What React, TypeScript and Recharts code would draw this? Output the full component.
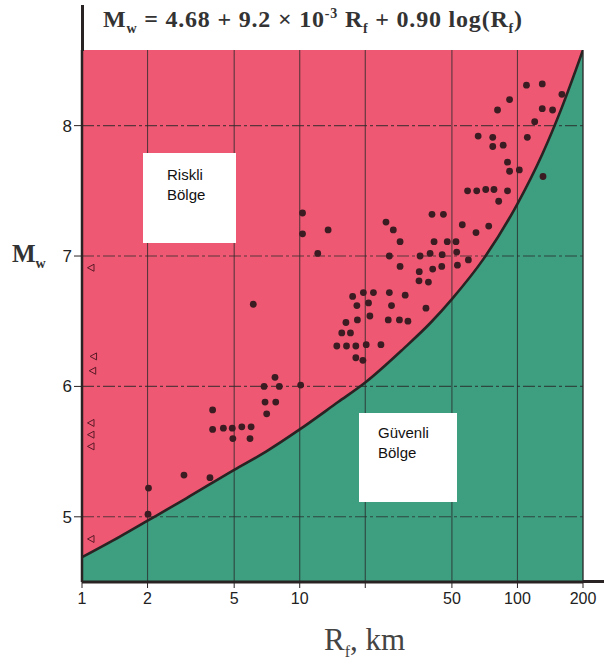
import React from "react";
import {
  Area,
  ComposedChart,
  Line,
  ReferenceArea,
  ReferenceLine,
  Scatter,
  XAxis,
  YAxis,
} from "recharts";

// axis ticks
const rfTicks = [1, 2, 5, 10, 20, 50, 100, 200];
const rfGrid = [2, 5, 10, 20, 50, 100, 200];
const mwTicks = [5, 6, 7, 8];

// boundary curve
const curveRf = [1, 1.5, 2, 3, 5, 7, 10, 15, 20, 30, 40, 50, 70, 100, 130, 160, 200];
const curveMw = [
  4.69, 4.85, 4.97, 5.14, 5.36, 5.5, 5.67, 5.88, 6.03, 6.29, 6.49, 6.67, 6.98,
  7.4, 7.78, 8.14, 8.58,
];

// observed cases (filled dots)
const dotRf = [
  110, 130, 160, 92, 81, 130, 145, 120, 66, 77, 77, 86, 111, 90, 92, 102, 131,
  59, 65, 71.5, 78, 90, 82, 40.5, 45.7, 10.3, 10.3, 13.5, 24.9, 26.9, 28.9,
  55.8, 64.5, 73.8, 41.4, 47.6, 52.2, 25.8, 35.7, 39.7, 45.1, 52.6, 12.1, 28.9,
  35.4, 40.8, 44.9, 53, 59.5, 35.3, 39, 6.12, 17.5, 19.6, 21.8, 25.8, 30.5,
  18.3, 20.7, 26.4, 38, 16.3, 18.4, 21, 25.5, 28.7, 31.4, 15.6, 17.1, 14.8,
  16.4, 18.1, 20.2, 23.6, 18.1, 19.5, 7.7, 6.86, 8.06, 10.1, 6.93, 7.76, 7.05,
  3.98, 3.98, 4.46, 4.9, 5.42, 5.98, 4.93, 5.91, 2.94, 3.87, 2.02, 2.01,
];
const dotMw = [
  8.31, 8.32, 8.24, 8.2, 8.12, 8.13, 8.12, 8.03, 7.92, 7.91, 7.84, 7.85, 7.91,
  7.72, 7.65, 7.66, 7.61, 7.5, 7.5, 7.51, 7.51, 7.5, 7.42, 7.32, 7.32, 7.33,
  7.17, 7.2, 7.26, 7.2, 7.11, 7.24, 7.18, 7.23, 7.11, 7.11, 7.11, 7.0, 7.0,
  7.02, 7.01, 7.03, 7.02, 6.92, 6.88, 6.9, 6.92, 6.93, 6.97, 6.81, 6.8, 6.63,
  6.69, 6.72, 6.72, 6.72, 6.7, 6.62, 6.64, 6.62, 6.6, 6.49, 6.51, 6.54, 6.51,
  6.51, 6.5, 6.41, 6.41, 6.31, 6.31, 6.31, 6.32, 6.32, 6.22, 6.2, 6.07, 6.0,
  6.0, 6.01, 5.88, 5.88, 5.79, 5.82, 5.67, 5.68, 5.68, 5.69, 5.69, 5.6, 5.6,
  5.32, 5.3, 5.22, 5.02,
];

// open triangles near the axis
const triRf = [1.1, 1.13, 1.12, 1.1, 1.1, 1.1, 1.1];
const triMw = [6.91, 6.23, 6.12, 5.72, 5.63, 5.54, 4.83];

const RED = "#ee5872";
const GREEN = "#3d9e80";
const INK = "#2a2323";

const curveData = curveRf.map((rf, i) => ({ rf, mw: curveMw[i] }));
const dotData = dotRf.map((rf, i) => ({ rf, mw: dotMw[i] }));
const triData = triRf.map((rf, i) => ({ rf, mw: triMw[i] }));

const Triangle = (props: any) => {
  const { cx, cy } = props;
  return (
    <polygon
      points={`${cx - 3.5},${cy} ${cx + 3},${cy - 3.5} ${cx + 3},${cy + 3.5}`}
      fill="none"
      stroke="#5a1a28"
      strokeWidth={1}
    />
  );
};

const Dot = (props: any) => (
  <circle cx={props.cx} cy={props.cy} r={3.4} fill="#3a1c22" />
);

const sans = "'Liberation Sans', Arial, sans-serif";
const serif = "'Liberation Serif', 'Times New Roman', serif";

const box: React.CSSProperties = {
  position: "absolute",
  background: "#fff",
  fontFamily: sans,
  fontSize: 15,
  lineHeight: "20px",
  color: "#111",
  boxSizing: "border-box",
};

export default function App() {
  return (
    <div style={{ position: "absolute", left: 0, top: 0, width: 604, height: 666, background: "#fff" }}>
      <ComposedChart
        width={604}
        height={666}
        data={curveData}
        margin={{ top: 50, right: 0, left: 0, bottom: 0 }}
      >
        <XAxis
          dataKey="rf"
          type="number"
          scale="log"
          domain={[1, 200]}
          ticks={rfTicks}
          allowDataOverflow
          height={84}
          tickSize={6}
          tickMargin={5}
          tickFormatter={(v: number) => (v === 20 ? "" : String(v))}
          tick={{ fill: "#222", fontSize: 16, fontFamily: sans }}
          axisLine={{ stroke: INK, strokeWidth: 3 }}
          tickLine={{ stroke: INK }}
        />
        <XAxis
          xAxisId="top"
          orientation="top"
          type="number"
          scale="log"
          domain={[1, 200]}
          ticks={rfGrid}
          height={0}
          tickSize={5}
          tickFormatter={() => ""}
          axisLine={false}
          tickLine={{ stroke: INK }}
        />
        <YAxis
          type="number"
          domain={[4.5, 8.58]}
          ticks={mwTicks}
          allowDataOverflow
          width={82}
          tickSize={8}
          tickMargin={2}
          tick={{ fill: "#222", fontSize: 17, fontFamily: sans }}
          axisLine={{ stroke: INK, strokeWidth: 2.5 }}
          tickLine={{ stroke: INK }}
        />
        <YAxis
          yAxisId="right"
          orientation="right"
          type="number"
          domain={[4.5, 8.58]}
          ticks={mwTicks}
          width={21}
          tickSize={16}
          tickFormatter={() => ""}
          axisLine={false}
          tickLine={{ stroke: "#555", strokeDasharray: "5 2 2 2" }}
        />
        <ReferenceArea
          x1={1}
          x2={200}
          y1={4.5}
          y2={8.58}
          fill={RED}
          fillOpacity={1}
          stroke="none"
          zIndex={10}
        />
        <Area
          dataKey="mw"
          type="monotone"
          baseValue={4.5}
          fill={GREEN}
          fillOpacity={1}
          stroke="none"
          isAnimationActive={false}
          zIndex={20}
        />
        {rfGrid.map((v) => (
          <ReferenceLine
            key={"x" + v}
            x={v}
            stroke="#2a2a2a"
            strokeOpacity={v === 200 ? 0.9 : 0.75}
            strokeWidth={v === 200 ? 1.5 : 1.1}
            zIndex={30}
          />
        ))}
        {mwTicks.map((v) => (
          <ReferenceLine
            key={"y" + v}
            y={v}
            stroke="#2a2a2a"
            strokeOpacity={0.75}
            strokeWidth={1.1}
            strokeDasharray="12 3 3 3"
            zIndex={30}
          />
        ))}
        <Line
          dataKey="mw"
          type="monotone"
          stroke={INK}
          strokeWidth={2.6}
          dot={false}
          activeDot={false}
          isAnimationActive={false}
          zIndex={40}
        />
        <Scatter data={dotData} dataKey="mw" shape={Dot} isAnimationActive={false} zIndex={50} />
        <Scatter data={triData} dataKey="mw" shape={Triangle} isAnimationActive={false} zIndex={50} />
      </ComposedChart>

      {/* axis extensions */}
      <div style={{ position: "absolute", left: 81, top: 5, width: 2.5, height: 46, background: INK }} />
      <div style={{ position: "absolute", left: 583, top: 580, width: 21, height: 3, background: INK }} />

      {/* title */}
      <div
        style={{
          position: "absolute",
          left: 103,
          top: 6,
          fontFamily: serif,
          fontWeight: "bold",
          fontSize: 24,
          letterSpacing: 0.8,
          color: "#333",
          whiteSpace: "nowrap",
        }}
      >
        M<sub style={{ fontSize: 14 }}>w</sub> = 4.68 + 9.2 × 10<sup style={{ fontSize: 14 }}>-3</sup> R
        <sub style={{ fontSize: 14 }}>f</sub> + 0.90 log(R<sub style={{ fontSize: 14 }}>f</sub>)
      </div>

      {/* axis titles */}
      <div
        style={{
          position: "absolute",
          left: 12,
          top: 240,
          fontFamily: serif,
          fontWeight: "bold",
          fontSize: 25,
          color: "#333",
        }}
      >
        M<sub style={{ fontSize: 14 }}>w</sub>
      </div>
      <div
        style={{
          position: "absolute",
          left: 324,
          top: 622,
          fontFamily: serif,
          fontSize: 31,
          color: "#444",
          whiteSpace: "nowrap",
        }}
      >
        R<sub style={{ fontSize: 16 }}>f</sub>, km
      </div>

      {/* region labels */}
      <div style={{ ...box, left: 143, top: 153, width: 93, height: 90, padding: "12px 0 0 24px" }}>
        Riskli
        <br />
        Bölge
      </div>
      <div style={{ ...box, left: 359, top: 413, width: 98, height: 89, padding: "10px 0 0 19px" }}>
        Güvenli
        <br />
        Bölge
      </div>
    </div>
  );
}
